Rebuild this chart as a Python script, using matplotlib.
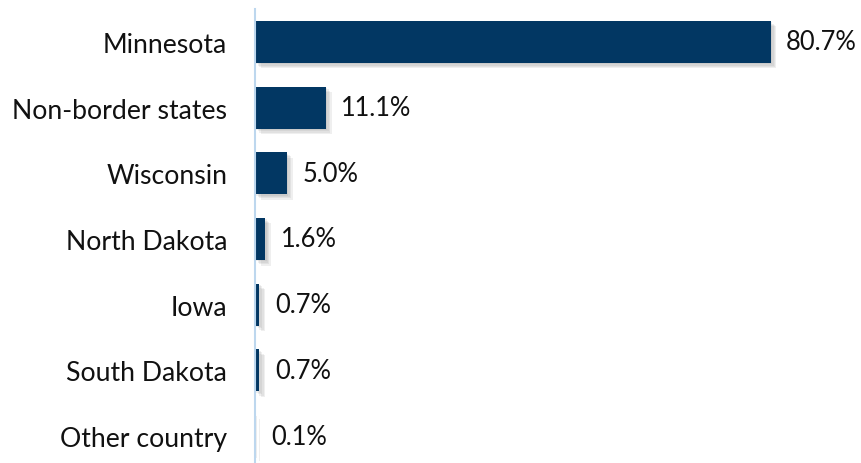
import matplotlib.pyplot as plt
from matplotlib import patheffects as pe

states = ['Minnesota', 'Non-border states', 'Wisconsin', 'North Dakota',
          'Iowa', 'South Dakota', 'Other country']
shares = [80.7, 11.1, 5.0, 1.6, 0.7, 0.7, 0.1]

plt.rcParams['font.family'] = ['Lato', 'DejaVu Sans']

fig = plt.figure(figsize=(8.61, 4.64), dpi=100)
ax = fig.add_axes([255 / 861, 0, 606 / 861, 1 - 10 / 464])

# soft drop shadow made from a few stacked offset shadows
shadow = [pe.SimplePatchShadow(offset=(d, -d), shadow_rgbFace='#808080', alpha=0.12)
          for d in (1, 2, 3, 4)] + [pe.Normal()]

bars = ax.barh(range(len(states)), shares, height=0.64, color='#023763',
               path_effects=shadow)

for bar, v in zip(bars, shares):
    ax.annotate(f'{v:.1f}%', (bar.get_width(), bar.get_y() + bar.get_height() / 2),
                xytext=(11, 0), textcoords='offset points',
                va='center', ha='left', fontsize=18.4, color='#111111')

ax.set_xlim(0, 94.8)
ax.set_ylim(6.41, -0.5)
ax.set_yticks(range(len(states)))
ax.set_yticklabels(states, fontsize=19.2, color='#111111')
ax.tick_params(axis='y', length=0, pad=20)
ax.set_xticks([])
for s in ['top', 'right', 'bottom']:
    ax.spines[s].set_visible(False)
ax.spines['left'].set_color('#BDD7EE')
ax.spines['left'].set_linewidth(1.5)

fig.savefig('out.png', dpi=100)
